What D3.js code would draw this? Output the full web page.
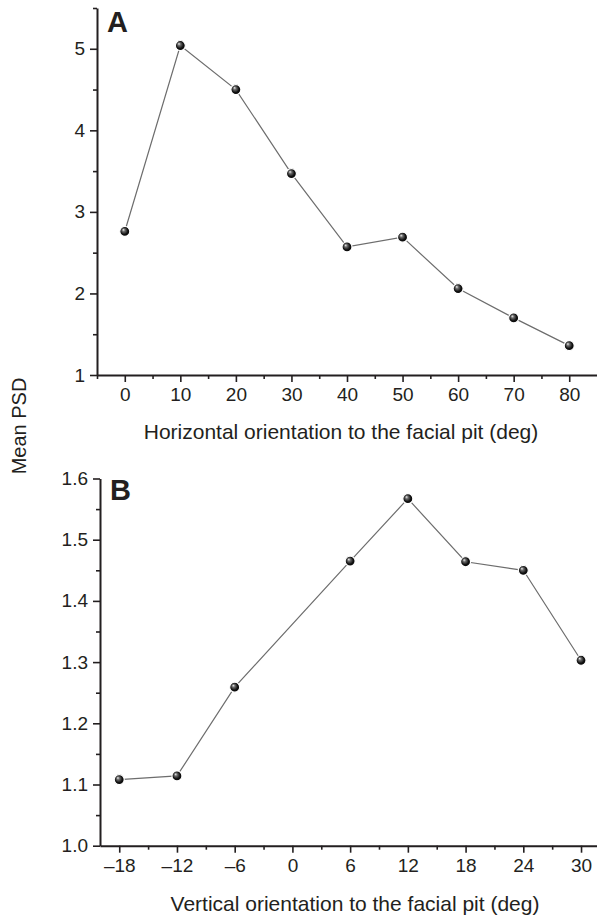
<!DOCTYPE html>
<html>
<head>
<meta charset="utf-8">
<script src="https://cdn.jsdelivr.net/npm/d3@7"></script>
<style>
  body { margin: 0; background: #fff; }
  svg text { font-family: "Liberation Sans", Arial, sans-serif; fill: #231f20; }
  .axis path, .axis line { stroke: #231f20; }
</style>
</head>
<body>
<div id="vis"></div>
<script>
// panel A: horizontal orientation
const horizAngles = [0, 10, 20, 30, 40, 50, 60, 70, 80];
const horizPSD = [2.76, 5.04, 4.50, 3.47, 2.57, 2.69, 2.06, 1.70, 1.36];
const horizTicks = [0, 10, 20, 30, 40, 50, 60, 70, 80];
const horizYTicks = [1, 2, 3, 4, 5];

// panel B: vertical orientation
const vertAngles = [-18, -12, -6, 6, 12, 18, 24, 30];
const vertPSD = [1.108, 1.114, 1.259, 1.465, 1.567, 1.464, 1.450, 1.303];
const vertTicks = [-18, -12, -6, 0, 6, 12, 18, 24, 30];
const vertYTicks = [1.0, 1.1, 1.2, 1.3, 1.4, 1.5, 1.6];

const width = 597, height = 917;

let svg = d3.select("#vis")
  .append("svg")
  .attr("width", width)
  .attr("height", height);

// shiny ball marker
let grad = svg.append("defs").append("radialGradient")
  .attr("id", "ball")
  .attr("cx", "50%").attr("cy", "50%")
  .attr("fx", "35%").attr("fy", "32%")
  .attr("r", "60%");
grad.append("stop").attr("offset", "0%").attr("stop-color", "#f2f2f2");
grad.append("stop").attr("offset", "25%").attr("stop-color", "#6a6a6a");
grad.append("stop").attr("offset", "60%").attr("stop-color", "#111");
grad.append("stop").attr("offset", "100%").attr("stop-color", "#000");

function panel(opts) {
  const x = d3.scaleLinear().domain(opts.xDomain).range(opts.xRange);
  const y = d3.scaleLinear().domain(opts.yDomain).range(opts.yRange);
  const fmt = opts.xFormat;

  // minor ticks first
  svg.append("g")
    .attr("class", "axis")
    .attr("transform", `translate(0, ${opts.yRange[0]})`)
    .call(d3.axisBottom(x).tickValues(opts.xMinor).tickSize(4).tickSizeOuter(0).tickFormat(""))
    .call(g => g.select(".domain").remove())
    .selectAll("line").attr("stroke-width", 1.6);

  svg.append("g")
    .attr("class", "axis")
    .attr("transform", `translate(${opts.xRange[0]}, 0)`)
    .call(d3.axisLeft(y).tickValues(opts.yMinor).tickSize(4).tickSizeOuter(0).tickFormat(""))
    .call(g => g.select(".domain").remove())
    .selectAll("line").attr("stroke-width", 1.6);

  // major ticks
  let xg = svg.append("g")
    .attr("class", "axis")
    .attr("transform", `translate(0, ${opts.yRange[0]})`)
    .call(d3.axisBottom(x).tickValues(opts.xTicks).tickSize(7).tickSizeOuter(0).tickPadding(6).tickFormat(fmt));
  xg.select(".domain").attr("stroke-width", 2);
  xg.selectAll("line").attr("stroke-width", 1.6);
  xg.selectAll("text").style("font-size", "19px").attr("fill", "#231f20");

  let yg = svg.append("g")
    .attr("class", "axis")
    .attr("transform", `translate(${opts.xRange[0]}, 0)`)
    .call(d3.axisLeft(y).tickValues(opts.yTicks).tickSize(7).tickSizeOuter(0).tickPadding(5).tickFormat(opts.yFormat));
  yg.select(".domain").attr("stroke-width", 2);
  yg.selectAll("line").attr("stroke-width", 1.6);
  yg.selectAll("text").style("font-size", "19px").attr("fill", "#231f20");

  const pts = opts.xs.map((d, i) => ({ x: d, y: opts.ys[i] }));

  svg.append("path")
    .datum(pts)
    .attr("fill", "none")
    .attr("stroke", "#6d6d6d")
    .attr("stroke-width", 1.2)
    .attr("d", d3.line().x(d => x(d.x)).y(d => y(d.y)));

  svg.selectAll(null)
    .data(pts)
    .enter()
    .append("circle")
    .attr("cx", d => x(d.x))
    .attr("cy", d => y(d.y))
    .attr("r", 5)
    .attr("fill", "url(#ball)")
    .attr("stroke", "#fff")
    .attr("stroke-width", 1.2);

  svg.append("text")
    .attr("x", opts.letterPos[0])
    .attr("y", opts.letterPos[1])
    .style("font-size", "29px")
    .style("font-weight", "bold")
    .text(opts.letter);

  svg.append("text")
    .attr("x", opts.titlePos[0])
    .attr("y", opts.titlePos[1])
    .style("text-anchor", "middle")
    .style("font-size", "21px")
    .text(opts.title);
}

const dash = d => d < 0 ? "\u2013" + Math.abs(d) : String(d);

panel({
  xDomain: [-5, 85], xRange: [97, 597],
  yDomain: [1, 5.5], yRange: [375, 8],
  xs: horizAngles, ys: horizPSD,
  xTicks: horizTicks, xMinor: [-5, 5, 15, 25, 35, 45, 55, 65, 75],
  yTicks: horizYTicks, yMinor: [1.5, 2.5, 3.5, 4.5, 5.5],
  xFormat: dash, yFormat: d3.format("d"),
  letter: "A", letterPos: [107, 32],
  title: "Horizontal orientation to the facial pit (deg)", titlePos: [341, 439]
});

panel({
  xDomain: [-20, 31.66], xRange: [100, 597],
  yDomain: [1, 1.6], yRange: [845.7, 478.5],
  xs: vertAngles, ys: vertPSD,
  xTicks: vertTicks, xMinor: [-15, -9, -3, 3, 9, 15, 21, 27],
  yTicks: vertYTicks, yMinor: [1.05, 1.15, 1.25, 1.35, 1.45, 1.55],
  xFormat: dash, yFormat: d3.format(".1f"),
  letter: "B", letterPos: [110, 500],
  title: "Vertical orientation to the facial pit (deg)", titlePos: [355, 911]
});

svg.append("text")
  .attr("transform", "translate(26, 426) rotate(-90)")
  .style("text-anchor", "middle")
  .style("font-size", "20px")
  .text("Mean PSD");
</script>
</body>
</html>
